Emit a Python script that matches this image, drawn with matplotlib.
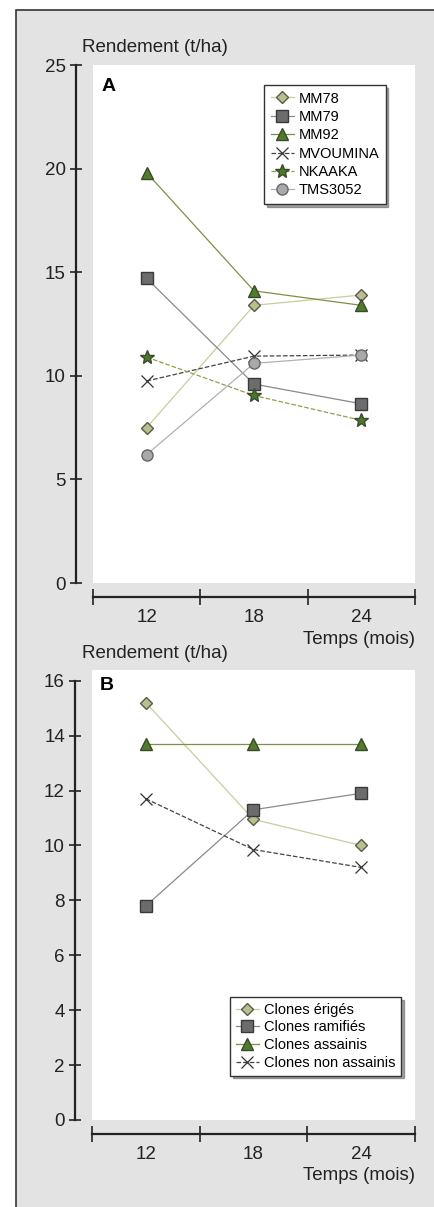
import numpy as np
import matplotlib
matplotlib.use('Agg')
import matplotlib.pyplot as plt
from matplotlib.patches import Rectangle

plt.rcParams['font.family'] = ['Liberation Sans', 'DejaVu Sans']

# données
mois = ['12', '18', '24']

clones_a = ['MM78', 'MM79', 'MM92', 'MVOUMINA', 'NKAAKA', 'TMS3052']
mm78 = [7.5, 13.4, 13.9]
mm79 = [14.7, 9.6, 8.65]
mm92 = [19.8, 14.1, 13.4]
mvoumina = [9.75, 10.95, 11.0]
nkaaka = [10.9, 9.05, 7.85]
tms3052 = [6.2, 10.6, 11.0]

groupes_b = ['Clones érigés', 'Clones ramifiés', 'Clones assainis', 'Clones non assainis']
eriges = [15.2, 10.95, 10.0]
ramifies = [7.8, 11.3, 11.9]
assainis = [13.7, 13.7, 13.7]
non_assainis = [11.7, 9.85, 9.2]

W, H = 435, 1207
fig = plt.figure(figsize=(W / 100, H / 100), dpi=100)
fig.patch.set_facecolor('white')


def box(x0, y0, x1, y1):
    # pixels -> fraction de figure
    return [x0 / W, 1 - y1 / H, (x1 - x0) / W, (y1 - y0) / H]


# cadre gris
fig.patches.append(Rectangle((16 / W, -0.01), 1.02, 1 - 10 / H + 0.01, transform=fig.transFigure,
                             facecolor='#e3e3e3', edgecolor='#333333', lw=1.2, zorder=-10))

# styles (marqueur, couleur remplissage, couleur ligne, style ligne)
styles = {
    'diamond': dict(marker='D', markersize=6, markerfacecolor='#b9bf8e', markeredgecolor='#5a5a4a',
                    color='#c9cd9e', ls='-'),
    'square': dict(marker='s', markersize=8, markerfacecolor='#6c6c6c', markeredgecolor='#3a3a3a',
                   color='#8a8a8a', ls='-'),
    'triangle': dict(marker='^', markersize=8, markerfacecolor='#4f7d2c', markeredgecolor='#3a4a2a',
                     color='#7f8f45', ls='-'),
    'cross': dict(marker='x', markersize=8, markeredgecolor='#333333', markeredgewidth=0.9,
                  color='#444444', ls='--'),
    'star': dict(marker='*', markersize=10.5, markerfacecolor='#4a7a2c', markeredgecolor='#3a4a2a',
                 color='#8f9f4a', ls='--'),
    'circle': dict(marker='o', markersize=8, markerfacecolor='#a9a9a9', markeredgecolor='#666666',
                   color='#b0b0b0', ls='-'),
}

FS = 13.5


def style_axes(ax, ytop, ymax, yticks):
    ax.set_facecolor('white')
    ax.set_xlim(-0.5, 2.5)
    ax.set_ylim(0, ytop)
    for s in ['top', 'right']:
        ax.spines[s].set_visible(False)
    ax.spines['left'].set_position(('outward', 12))
    ax.spines['bottom'].set_position(('outward', 10))
    ax.spines['left'].set_bounds(0, ymax)
    ax.spines['left'].set_linewidth(1.6)
    ax.spines['bottom'].set_linewidth(1.6)
    ax.spines['left'].set_color('#222222')
    ax.spines['bottom'].set_color('#222222')
    ax.set_yticks(yticks)
    ax.tick_params(axis='y', direction='inout', length=9, width=1.2, labelsize=FS, pad=3,
                   colors='#222222')
    ax.set_xticks([-0.5, 0.5, 1.5, 2.5])
    ax.set_xticklabels([])
    ax.tick_params(axis='x', direction='inout', length=11, width=1.2, colors='#222222')
    ax.set_xticks([0, 1, 2], minor=True)
    ax.set_xticklabels(mois, minor=True)
    ax.tick_params(axis='x', which='minor', length=0, labelsize=FS, pad=8.5, colors='#222222')


# Panneau A
axA = fig.add_axes(box(93, 65, 415, 583))
style_axes(axA, 25, 25, [0, 5, 10, 15, 20, 25])
x = np.arange(3)
for nom, vals, st in zip(clones_a, [mm78, mm79, mm92, mvoumina, nkaaka, tms3052],
                         ['diamond', 'square', 'triangle', 'cross', 'star', 'circle']):
    axA.plot(x, vals, lw=0.9, label=nom, **styles[st])
legA = axA.legend(loc='upper left', bbox_to_anchor=(264 / W, 1 - 85 / H), bbox_transform=fig.transFigure,
                  fontsize=10.5, handlelength=1.6, handletextpad=0.3, labelspacing=0.3,
                  borderpad=0.45, fancybox=False, shadow=True, framealpha=1, borderaxespad=0)
legA.get_frame().set_edgecolor('#333333')
legA.get_frame().set_linewidth(1.0)
axA.text(0.025, 0.975, 'A', transform=axA.transAxes, fontsize=14, fontweight='bold', va='top', ha='left')
fig.text(82 / W, 1 - 48 / H, 'Rendement (t/ha)', fontsize=FS, va='center', ha='left', color='#222222')
fig.text(415 / W, 1 - 640 / H, 'Temps (mois)', fontsize=FS, va='center', ha='right', color='#222222')

# Panneau B
axB = fig.add_axes(box(92, 670, 415, 1120))
style_axes(axB, 16.39, 16, [0, 2, 4, 6, 8, 10, 12, 14, 16])
for nom, vals, st in zip(groupes_b, [eriges, ramifies, assainis, non_assainis],
                         ['diamond', 'square', 'triangle', 'cross']):
    axB.plot(x, vals, lw=0.9, label=nom, **styles[st])
legB = axB.legend(loc='upper left', bbox_to_anchor=(230 / W, 1 - 997 / H), bbox_transform=fig.transFigure,
                  fontsize=10.5, handlelength=1.6, handletextpad=0.3, labelspacing=0.25,
                  borderpad=0.4, fancybox=False, shadow=True, framealpha=1, borderaxespad=0)
legB.get_frame().set_edgecolor('#333333')
legB.get_frame().set_linewidth(1.0)
axB.text(0.025, 0.985, 'B', transform=axB.transAxes, fontsize=14, fontweight='bold', va='top', ha='left')
fig.text(82 / W, 1 - 653 / H, 'Rendement (t/ha)', fontsize=FS, va='center', ha='left', color='#222222')
fig.text(415 / W, 1 - 1176 / H, 'Temps (mois)', fontsize=FS, va='center', ha='right', color='#222222')

fig.savefig('out.png', dpi=100)
